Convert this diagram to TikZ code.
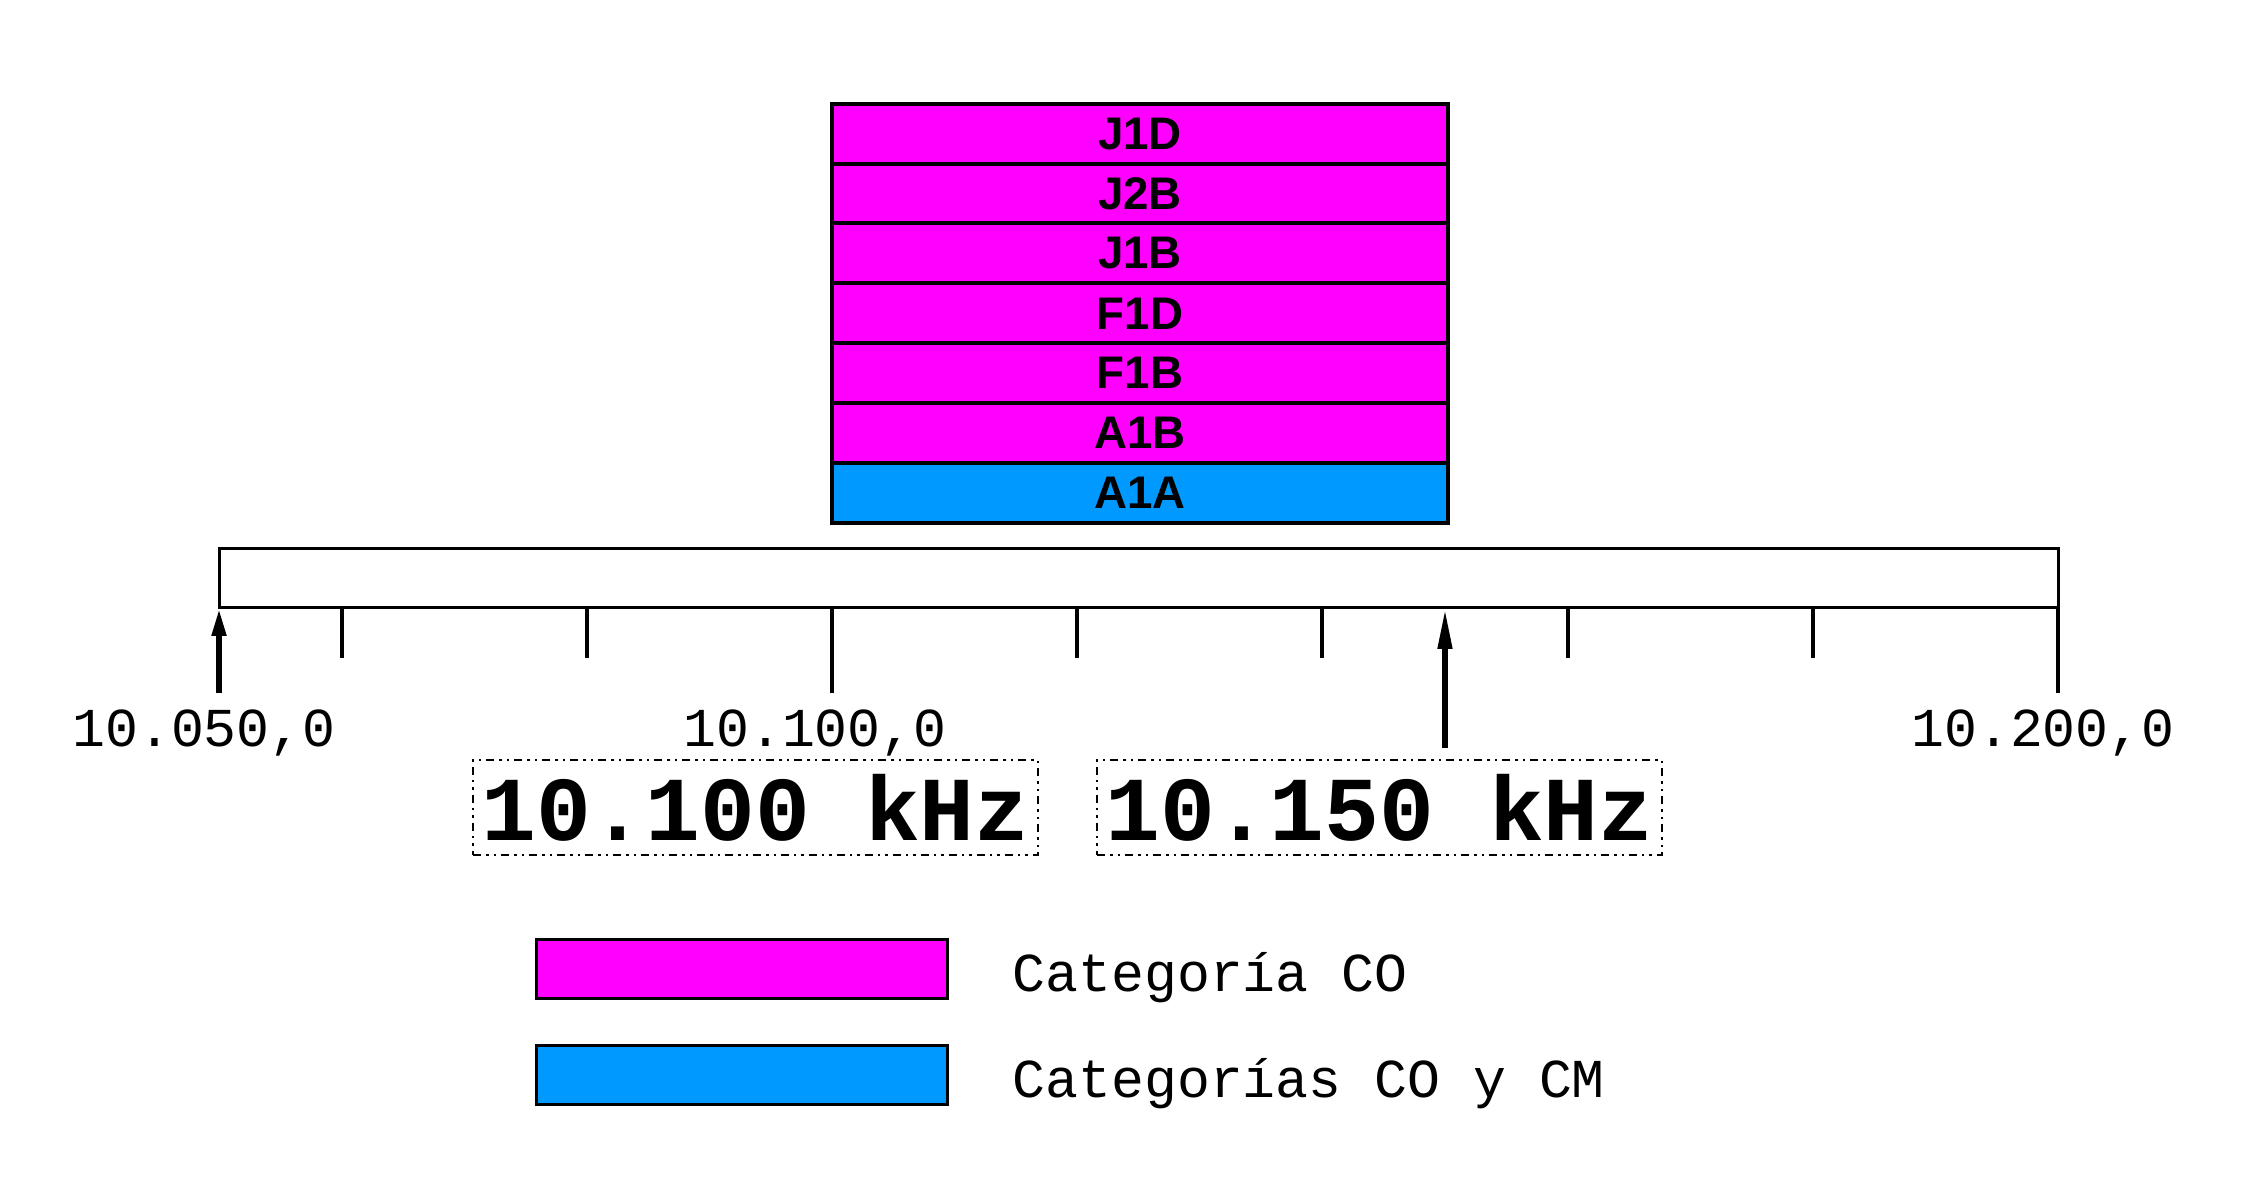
\documentclass[tikz,border=0pt]{standalone}
\usepackage{fontspec}
\setmainfont{Liberation Sans}
\newfontfamily\freqfont{Liberation Mono}
\definecolor{bandmagenta}{RGB}{255,0,255}
\definecolor{bandblue}{RGB}{0,153,255}
\usetikzlibrary{positioning,calc,arrows.meta}

\tikzset{
  mode/.style={draw, line width=0.4mm, outer sep=0pt, inner sep=0pt,
    minimum width=61.6mm, minimum height=5.99mm,
    font=\bfseries\fontsize{13pt}{13pt}\selectfont},
  scaletick/.style={line width=0.4mm},
  freqarrow/.style={line width=0.6mm, -{Triangle[length=#1,width=1.35mm]}},
  freqarrow/.default=2.8mm,
  freqlabel/.style={anchor=base, inner sep=0pt,
    font=\freqfont\fontsize{15.6pt}{16pt}\selectfont},
  freqbox/.style={draw, line width=0.25mm,
    dash pattern=on 0.8mm off 0.5mm on 0.25mm off 0.5mm on 0.25mm off 0.5mm,
    minimum width=56.5mm, minimum height=9.5mm, inner sep=0pt,
    font=\freqfont\bfseries\fontsize{26pt}{26pt}\selectfont},
  legendbox/.style={draw, line width=0.3mm, outer sep=0pt, inner sep=0pt,
    minimum width=41.1mm, minimum height=5.9mm},
  legendtext/.style={anchor=base west, inner sep=0pt,
    font=\freqfont\fontsize{15.6pt}{16pt}\selectfont}
}

\begin{document}
\begin{tikzpicture}[x=0.1mm,y=0.1mm]
  \useasboundingbox (0,0) rectangle (2260,1176);

  % scale 10.050 - 10.200
  \node[draw, line width=0.3mm, outer sep=0pt, inner sep=0pt,
        minimum width=183.9mm, minimum height=5.9mm] (bar) at (1138.5,597.5) {};

  % ticks every 20 kHz
  \foreach \k in {1,3,7,9,11,13}
    \draw[scaletick] ($(bar.south west)!{\k/15}!(bar.south east)$) -- ++(0,-50);
  \foreach \k in {5,15}
    \draw[scaletick] ($(bar.south west)!{\k/15}!(bar.south east)$) -- ++(0,-85);

  % band edges
  \coordinate (f050) at (bar.south west);
  \coordinate (f150) at ($(bar.south west)!{10/15}!(bar.south east)$);
  \coordinate (f050end) at ($(f050)+(0,-85)$);
  \coordinate (f150end) at ($(f150)+(0,-140)$);
  \draw[freqarrow] (f050end) -- (f050);
  \draw[freqarrow=4.1mm] (f150end) -- (f150);

  \node[freqlabel] (l050) at ($(f050)+(-15,-139)$) {10.050,0};
  \node[freqlabel] (l100) at ($(bar.south west)!{5/15}!(bar.south east)+(-17,-139)$) {10.100,0};
  \node[freqlabel] (l200) at ($(bar.south east)+(-15,-139)$) {10.200,0};

  % modes
  \node[mode, fill=bandblue, anchor=south west] (a1a)
    at ($(bar.north west)!{5/15}!(bar.north east)+(0,26)$) {A1A};
  \foreach \name/\lbl [remember=\name as \prev (initially a1a)] in
    {a1b/A1B, f1b/F1B, f1d/F1D, j1b/J1B, j2b/J2B, j1d/J1D}
    \node[mode, fill=bandmagenta, above=0pt of \prev] (\name) {\lbl};

  % band limits
  \node[freqbox] (lo) at (755.5,368.5) {10.100 kHz};
  \node[freqbox] (hi) at (1379.5,368.5) {10.150 kHz};

  % legend
  \node[legendbox, fill=bandmagenta, anchor=north west] (legco) at (536,236) {};
  \node[legendbox, fill=bandblue, below=4.7mm of legco] (legcm) {};
  \node[legendtext] (txtco) at ($(legco.east)+(65,-22)$) {Categoría CO};
  \node[legendtext] (txtcm) at ($(legcm.east)+(65,-22)$) {Categorías CO y CM};
\end{tikzpicture}
\end{document}
